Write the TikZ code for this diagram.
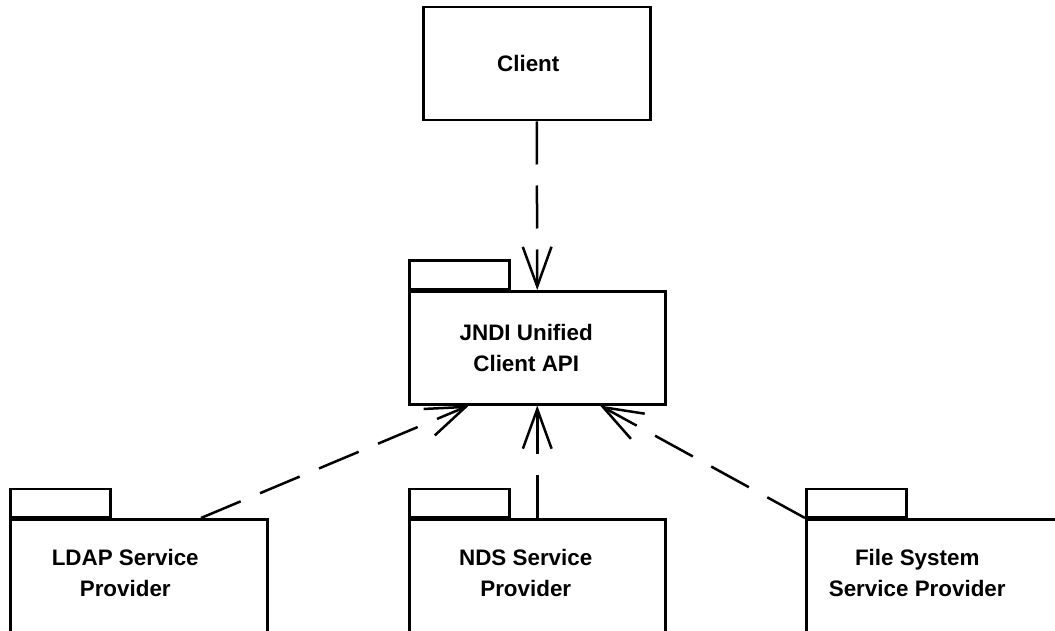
\documentclass[tikz,border=0pt]{standalone}
\usepackage{fontspec}
\setmainfont{Liberation Sans}
\usetikzlibrary{arrows.meta,calc}
\begin{document}
\begin{tikzpicture}[x=1pt,y=-1pt,
  outline/.style={draw=black,line width=2.5pt,rectangle,inner sep=0pt,fill=white},
  bodybox/.style={outline,minimum width=256pt,minimum height=113pt,anchor=north west},
  clientbox/.style={outline,minimum width=227pt,minimum height=113pt,anchor=north west},
  tabbox/.style={outline,minimum width=100pt,minimum height=28pt,anchor=south west},
  lbl/.style={align=center,inner sep=0pt,font=\fontsize{22.4}{31}\selectfont\bfseries},
  dep/.style={line width=2.5pt,dash pattern=on 43pt off 21pt,
    -{Straight Barb[length=39.5pt,width=28.7pt]}}
]
\useasboundingbox (0,0) rectangle (1055,631);
\clip (0,0) rectangle (1055,631);
% nodes
\node[clientbox] (client) at (422,6) {};
\node[lbl] (client-t) at ([xshift=-8.5pt]client.center) {Client};

\node[bodybox] (jndi) at (408,290) {};
\node[tabbox] (jndi-tab) at (jndi.north west) {};
\node[lbl] (jndi-t) at ([xshift=-11pt]jndi.center) {JNDI Unified\\Client API};

\node[bodybox,minimum width=257pt] (ldap) at (9,518) {};
\node[tabbox] (ldap-tab) at (ldap.north west) {};
\node[lbl] (ldap-t) at ([xshift=-13.5pt,yshift=2.5pt]ldap.center) {LDAP Service\\Provider};

\node[bodybox] (nds) at (408,518) {};
\node[tabbox] (nds-tab) at (nds.north west) {};
\node[lbl] (nds-t) at ([xshift=-11.5pt,yshift=2.5pt]nds.center) {NDS Service\\Provider};

\node[bodybox] (fs) at (805,518) {};
\node[tabbox] (fs-tab) at (fs.north west) {};
\node[lbl] (fs-t) at ([xshift=-17pt,yshift=2.5pt]fs.center) {File System\\Service Provider};

% connectors
\draw[dep] (client.south) -- (jndi.north);
\draw[dep] (nds.north) -- (jndi.south);
\draw[dep] ($(ldap.north west)+(192,0)$) -- ($(jndi.south west)+(61,0)$);
\draw[dep] (fs.north west) -- ($(jndi.south west)+(192,0)$);
\end{tikzpicture}
\end{document}
